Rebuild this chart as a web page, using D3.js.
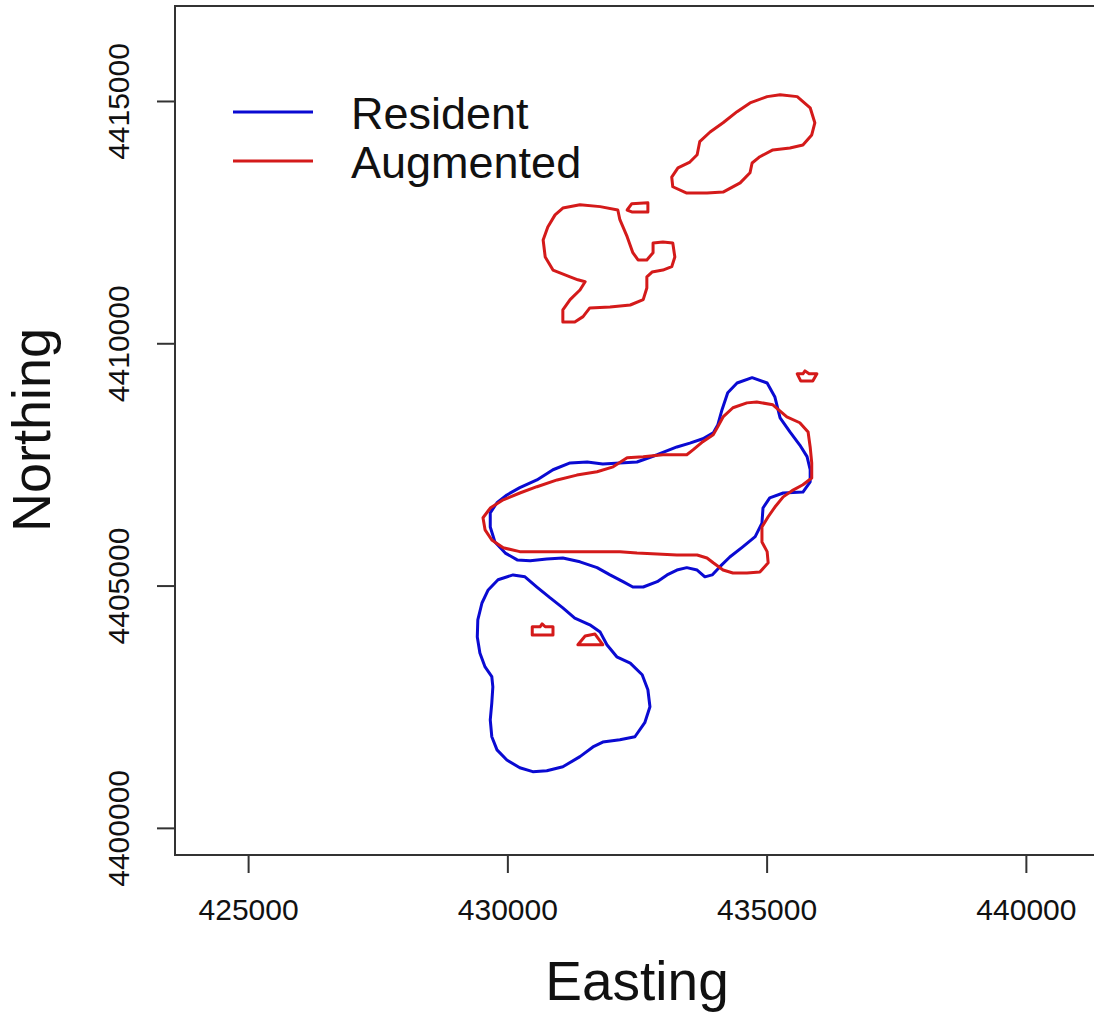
<!DOCTYPE html>
<html>
<head>
<meta charset="utf-8">
<script src="https://cdn.jsdelivr.net/npm/d3@7"></script>
<style>
  body{margin:0;background:#fff;}
  svg text{font-family:"Liberation Sans",Arial,sans-serif;fill:#111;}
</style>
</head>
<body>
<svg id="chart" width="1094" height="1015"></svg>
<script>
// axis limits and ticks (metres)
const xLim=[423590,441420];
const yLim=[4399440,4416960];
const xTicks=[425000,430000,435000,440000];
const yTicks=[4400000,4405000,4410000,4415000];

// Resident home-range contours [easting, northing]
const residentMain=[[434720,4409290],[435010,4409180],[435160,4408890],[435260,4408460],[435450,4408170],[435640,4407900],[435780,4407660],[435840,4407390],[435840,4407140],[435700,4406930],[435320,4406910],[435060,4406810],[434930,4406600],[434910,4406290],[434780,4406010],[434540,4405800],[434290,4405590],[434100,4405390],[433950,4405220],[433810,4405180],[433660,4405320],[433460,4405370],[433270,4405320],[433080,4405220],[432890,4405080],[432620,4404970],[432420,4404970],[432230,4405080],[431980,4405220],[431730,4405370],[431400,4405490],[431070,4405570],[430760,4405550],[430440,4405510],[430190,4405530],[429960,4405670],[429760,4405900],[429670,4406210],[429670,4406500],[429800,4406710],[429990,4406870],[430240,4407020],[430570,4407180],[430880,4407390],[431210,4407530],[431540,4407550],[431840,4407510],[432170,4407530],[432500,4407550],[432890,4407700],[433270,4407860],[433520,4407940],[433770,4408030],[433970,4408150],[434060,4408320],[434140,4408630],[434250,4408980],[434430,4409180]];
const residentSouth=[[430110,4405220],[430340,4405180],[430570,4404970],[430820,4404750],[431070,4404540],[431300,4404330],[431590,4404190],[431790,4404040],[431920,4403780],[432110,4403530],[432370,4403400],[432600,4403160],[432710,4402850],[432750,4402500],[432650,4402170],[432460,4401880],[432170,4401820],[431840,4401770],[431650,4401670],[431400,4401470],[431070,4401260],[430760,4401180],[430490,4401160],[430240,4401240],[429990,4401400],[429800,4401610],[429700,4401880],[429670,4402230],[429700,4402580],[429720,4402910],[429700,4403120],[429570,4403320],[429470,4403610],[429420,4403940],[429430,4404290],[429510,4404640],[429630,4404910],[429820,4405120]];

// Augmented home-range contours
const augmentedMain=[[434810,4408790],[435120,4408730],[435390,4408480],[435640,4408360],[435800,4408170],[435840,4407860],[435870,4407530],[435870,4407220],[435700,4407080],[435510,4406970],[435320,4406830],[435160,4406620],[435030,4406420],[434910,4406210],[434910,4405900],[435010,4405700],[435030,4405470],[434870,4405280],[434620,4405260],[434350,4405260],[434160,4405320],[433970,4405470],[433850,4405570],[433660,4405630],[433270,4405630],[432890,4405650],[432500,4405670],[432170,4405700],[431540,4405700],[430880,4405700],[430240,4405700],[429920,4405780],[429700,4405940],[429570,4406150],[429530,4406400],[429670,4406600],[429920,4406770],[430240,4406910],[430570,4407040],[430960,4407180],[431340,4407280],[431730,4407350],[432040,4407450],[432310,4407640],[432620,4407660],[433000,4407700],[433460,4407700],[433580,4407800],[433770,4407970],[433970,4408110],[434060,4408280],[434160,4408480],[434350,4408670],[434620,4408770]];
const augmentedSpeck=[[435590,4409370],[435700,4409370],[435740,4409430],[435820,4409370],[435970,4409370],[435890,4409220],[435660,4409220]];
const augmentedRect=[[430480,4404150],[430630,4404150],[430670,4404210],[430730,4404150],[430880,4404150],[430880,4403980],[430480,4403980]];
const augmentedTri=[[431360,4403780],[431500,4403960],[431690,4404000],[431840,4403780]];
const augmentedNE=[[435260,4415130],[435590,4415090],[435840,4414860],[435930,4414550],[435870,4414300],[435700,4414090],[435450,4414030],[435120,4413990],[434870,4413850],[434720,4413720],[434680,4413520],[434490,4413310],[434160,4413120],[433850,4413100],[433460,4413100],[433190,4413230],[433170,4413430],[433290,4413620],[433520,4413740],[433660,4413890],[433710,4414160],[433910,4414360],[434160,4414550],[434430,4414780],[434680,4414960],[435010,4415090]];
const augmentedNW=[[431070,4412790],[431400,4412860],[431790,4412820],[432130,4412750],[432170,4412550],[432310,4412200],[432420,4411870],[432520,4411720],[432690,4411720],[432810,4411870],[432810,4412070],[433000,4412090],[433190,4412070],[433230,4411780],[433170,4411580],[433000,4411510],[432790,4411470],[432690,4411370],[432690,4411140],[432620,4410900],[432370,4410790],[431980,4410750],[431590,4410730],[431460,4410550],[431300,4410440],[431070,4410440],[431070,4410690],[431210,4410900],[431400,4411100],[431500,4411270],[431360,4411310],[431210,4411370],[430880,4411510],[430730,4411780],[430690,4412130],[430780,4412400],[430920,4412650]];
const augmentedSmall=[[432310,4412750],[432400,4412880],[432710,4412900],[432710,4412710],[432400,4412710]];

const groups=[
  {name:"Resident",color:"#0a0ad2",polys:[residentMain,residentSouth]},
  {name:"Augmented",color:"#d41a1a",polys:[augmentedMain,augmentedSpeck,augmentedRect,augmentedTri,augmentedNE,augmentedNW,augmentedSmall]}
];

const svg=d3.select("#chart");
const x=d3.scaleLinear().domain(xLim).range([175,1099.5]);
const y=d3.scaleLinear().domain(yLim).range([855,6]);

// contours
const line=d3.line().x(d=>x(d[0])).y(d=>y(d[1]));
groups.forEach(g=>{
  g.polys.forEach(p=>{
    svg.append("path")
      .attr("d",line(p)+"Z")
      .attr("fill","none")
      .attr("stroke",g.color)
      .attr("stroke-width",3)
      .attr("stroke-linejoin","round");
  });
});

// box
svg.append("rect")
  .attr("x",x(xLim[0])).attr("y",y(yLim[1]))
  .attr("width",x(xLim[1])-x(xLim[0]))
  .attr("height",y(yLim[0])-y(yLim[1]))
  .attr("fill","none").attr("stroke","#333").attr("stroke-width",2);

// x axis
const xa=svg.append("g").attr("transform",`translate(0,${y(yLim[0])})`)
  .call(d3.axisBottom(x).tickValues(xTicks).tickSize(18).tickPadding(26).tickFormat(d3.format("d")));
xa.select(".domain").remove();
xa.selectAll("line").attr("stroke","#333").attr("stroke-width",2);
xa.selectAll("text").attr("font-size",30).attr("font-family","Liberation Sans, Arial, sans-serif").attr("fill","#111");

// y axis
const ya=svg.append("g").attr("transform",`translate(${x(xLim[0])},0)`)
  .call(d3.axisLeft(y).tickValues(yTicks).tickSize(18).tickFormat(d3.format("d")));
ya.select(".domain").remove();
ya.selectAll("line").attr("stroke","#333").attr("stroke-width",2);
ya.selectAll("text")
  .attr("font-size",30).attr("font-family","Liberation Sans, Arial, sans-serif").attr("fill","#111")
  .attr("x",null).attr("dy",null)
  .attr("text-anchor","middle")
  .attr("transform","translate(-46,0) rotate(-90)");

// axis titles
svg.append("text").attr("x",637).attr("y",1000)
  .attr("text-anchor","middle").attr("font-size",55).text("Easting");
svg.append("text").attr("transform","translate(50,430) rotate(-90)")
  .attr("text-anchor","middle").attr("font-size",54).text("Northing");

// legend
groups.forEach((g,i)=>{
  const ly=112+i*49;
  svg.append("line").attr("x1",233).attr("x2",313).attr("y1",ly).attr("y2",ly)
    .attr("stroke",g.color).attr("stroke-width",3);
  svg.append("text").attr("x",351).attr("y",ly+17)
    .attr("font-size",45).text(g.name);
});
</script>
</body>
</html>
